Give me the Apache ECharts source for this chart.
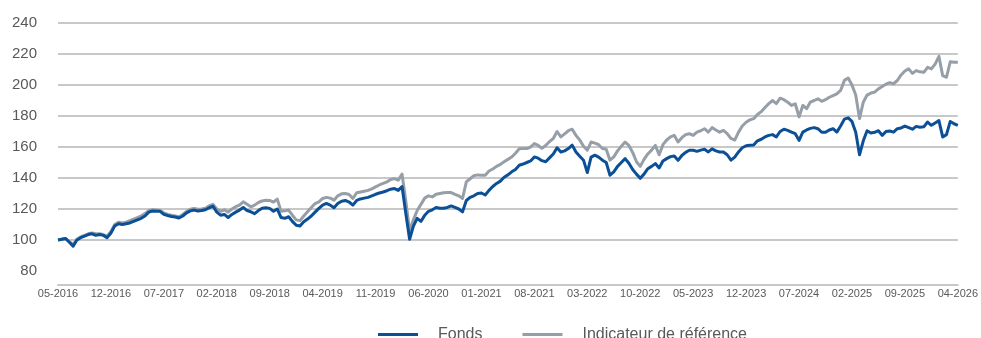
<!DOCTYPE html>
<html>
<head>
<meta charset="utf-8">
<script src="https://cdn.jsdelivr.net/npm/echarts@6/dist/echarts.min.js"></script>
<style>
  html, body { margin: 0; padding: 0; background: #ffffff; }
  #chart { width: 981px; height: 338px; }
</style>
</head>
<body>
<div id="chart"></div>
<script>
// Half-monthly observations, first point in May 2016 (base 100)
const fundValues = [
  100, 100.5, 101, 98.5, 96, 100, 101.5, 102.5, 103.5, 104, 103, 103.5, 103, 101.5, 104.5, 109, 110.5, 110, 110.5, 111, 112, 113, 114, 115.5,
  118, 118.7, 118.5, 118.5, 116.5, 115.8, 115.2, 114.8, 114.2, 115.5, 117.5, 118.8, 119.3, 118.7, 119, 119.5, 120.8, 121.8, 118, 116, 116.5, 114.5, 116.5, 118,
  119.3, 121, 119, 118.2, 117, 119, 120.5, 120.8, 120.4, 118.5, 120, 114.5, 114, 115, 112, 109.5, 109, 111.8, 113.5, 115.5, 118, 120.4, 122.5, 123.6,
  122.5, 120.8, 123.5, 125, 125.5, 124.5, 122.5, 125.5, 126.5, 127, 127.5, 128.5, 129.5, 130.3, 131, 131.8, 132.8, 133.2, 132, 134.5, 117, 100.5, 109, 114,
  112, 116, 118.5, 119.5, 121, 120.5, 120.5, 121, 122, 121, 120, 118.2, 125.5, 127.5, 128.5, 130, 130.3, 129, 132, 134.5, 136.5, 138, 140.5, 142,
  144, 145.5, 148.2, 149, 150, 151, 153.6, 152.8, 151.2, 150.5, 153, 155.5, 159.5, 156.8, 157.5, 159, 161.2, 156.8, 154, 151.5, 143.5, 153.5, 154.7, 153.5,
  151.5, 150, 141.8, 144, 147.5, 150, 152.5, 149.5, 145.5, 142.5, 139.8, 142.5, 146, 147.5, 149.3, 146.5, 151, 152.5, 153.8, 154.2, 151.4, 154.5, 156.5, 157.9,
  157.9, 157.2, 158, 158.5, 156.8, 158.8, 157.5, 156.8, 156.8, 155, 151.5, 153.5, 156.8, 159.5, 160.8, 161.1, 161.3, 164, 165, 166.5, 167.5, 168, 166.5, 170,
  171.5, 170.7, 169.6, 168.6, 164.3, 169.6, 171, 172, 172.5, 171.8, 169.5, 169.5, 171, 171.8, 169.6, 173.5, 178, 178.8, 176.5, 169.5, 155, 164, 170.5, 169,
  169.5, 170.5, 167.5, 170, 170.3, 169.6, 171.8, 172.3, 173.5, 172.5, 171.5, 173.3, 172.8, 173, 176.1, 174, 175.5, 177, 166.5, 168, 176.5, 175, 174
];

const benchmarkValues = [
  100, 100.5, 101, 99, 97, 100.5, 102, 103, 104, 104.5, 104, 104, 103.5, 102.5, 105.5, 110, 111.5, 111, 111.5, 112.5, 113.5, 114.5, 115.5, 117,
  119, 119.5, 119.3, 119, 117.5, 116.5, 116, 115.5, 115, 116.5, 118.5, 119.8, 120.3, 119.8, 120, 120.5, 122, 123, 120, 118.5, 119.5, 118, 120, 121.5,
  122.5, 124.6, 123, 121.4, 122.5, 124.2, 125.2, 125.7, 125.5, 124.5, 126.4, 118.5, 118.8, 119.3, 116, 113, 112.5, 115.5, 118.2, 121, 123.5, 124.6, 126.8, 127.5,
  127, 125.7, 128.5, 129.8, 130, 129.4, 126.8, 130.5, 131, 131.5, 132, 133, 134.3, 135.5, 136.5, 137.5, 139, 139.6, 138.6, 142.5, 125, 106, 113, 119,
  123, 127, 128.5, 127.8, 129.5, 130, 130.5, 130.6, 130.6, 129.5, 128.5, 126.8, 137.5, 139.5, 141.5, 142, 141.8, 141.8, 144.5, 145.8, 147.5, 148.8, 150.5, 152,
  153.5, 156, 158.8, 159, 159, 160, 162.2, 161, 159.2, 161, 163.5, 165.5, 170, 166.5, 168.5, 170.5, 171.5, 167.5, 164.5, 160.5, 158, 163.2, 162.5, 161.5,
  159, 158.5, 151.5, 153.6, 157.5, 160.5, 163.2, 161, 156.5, 150.5, 147.5, 152, 155.5, 158, 161, 155, 161.5, 164.5, 166.5, 167.5, 163.2, 166, 168, 168.6,
  167.5, 169.6, 170.5, 171.8, 169.6, 172.5, 171, 169.6, 170.7, 168.6, 165.5, 164.5, 169.6, 173.5, 176, 177.5, 178.3, 181, 182.8, 185.5, 188, 190, 188, 191.5,
  190.5, 188.9, 186.8, 187.9, 179.4, 186.8, 184.7, 189, 190, 191.1, 189.5, 190.5, 192.1, 193.2, 194.3, 196.5, 203, 204.5, 200, 193.5, 178.3, 188.9, 193.5, 194.8,
  195.4, 197.5, 199, 200.5, 201.5, 200.8, 202.9, 206.5, 209, 210.4, 207.5, 209.3, 208.5, 208.2, 211.4, 210.4, 213.5, 218.5, 206, 205, 215, 214.7, 214.7
];

// Dates shown under the horizontal axis
const tickLabels = [
  '05-2016', '12-2016', '07-2017', '02-2018', '09-2018', '04-2019', '11-2019', '06-2020', '01-2021',
  '08-2021', '03-2022', '10-2022', '05-2023', '12-2023', '07-2024', '02-2025', '09-2025', '04-2026'
];

const seriesNames = ['Fonds', 'Indicateur de référence'];

// Category dates: the 1st and the 16th of each month
const categories = [];
for (let i = 0; i < fundValues.length; i++) {
  const k = 4 + Math.floor(i / 2);
  const year = 2016 + Math.floor(k / 12);
  const month = String((k % 12) + 1).padStart(2, '0');
  categories.push(year + '-' + month + '-' + (i % 2 ? '16' : '01'));
}
const toMonthLabel = v => v.slice(5, 7) + '-' + v.slice(0, 4);

const FONT = '"Liberation Sans", Arial, sans-serif';
const TEXT = '#595959';
const GRID = '#c8c8c8';

const chart = echarts.init(document.getElementById('chart'), null, { renderer: 'canvas' });
chart.setOption({
  animation: false,
  backgroundColor: '#ffffff',
  textStyle: { fontFamily: FONT },
  grid: { left: 58, right: 15, top: 23, bottom: 67, containLabel: false },
  legend: {
    data: seriesNames,
    left: 378,
    top: 323,
    padding: 0,
    icon: 'rect',
    itemWidth: 40,
    itemHeight: 3,
    itemGap: 40,
    textStyle: {
      fontFamily: FONT,
      fontSize: 16,
      lineHeight: 16,
      color: TEXT,
      padding: [0, 0, 7, 15]
    }
  },
  xAxis: {
    type: 'category',
    data: categories,
    boundaryGap: false,
    offset: 14,
    axisLine: { lineStyle: { color: GRID, width: 2 } },
    axisTick: { show: false },
    splitLine: { show: false },
    axisLabel: {
      fontFamily: FONT,
      fontSize: 11,
      color: TEXT,
      margin: 3,
      interval: (index, value) => value.endsWith('-01') && tickLabels.includes(toMonthLabel(value)),
      formatter: v => toMonthLabel(v)
    }
  },
  yAxis: {
    type: 'value',
    min: 80,
    max: 240,
    interval: 20,
    axisLine: { show: false },
    axisTick: { show: false },
    splitLine: { show: true, showMinLine: false, lineStyle: { color: GRID, width: 2 } },
    axisLabel: { fontFamily: FONT, fontSize: 15, color: TEXT, margin: 21 }
  },
  series: [
    {
      name: seriesNames[1],
      type: 'line',
      data: benchmarkValues,
      showSymbol: false,
      symbol: 'none',
      z: 2,
      itemStyle: { color: '#969ea7' },
      lineStyle: { color: '#969ea7', width: 3, join: 'round' }
    },
    {
      name: seriesNames[0],
      type: 'line',
      data: fundValues,
      showSymbol: false,
      symbol: 'none',
      z: 3,
      itemStyle: { color: '#0b5096' },
      lineStyle: { color: '#0b5096', width: 3, join: 'round' }
    }
  ]
});
</script>
</body>
</html>
